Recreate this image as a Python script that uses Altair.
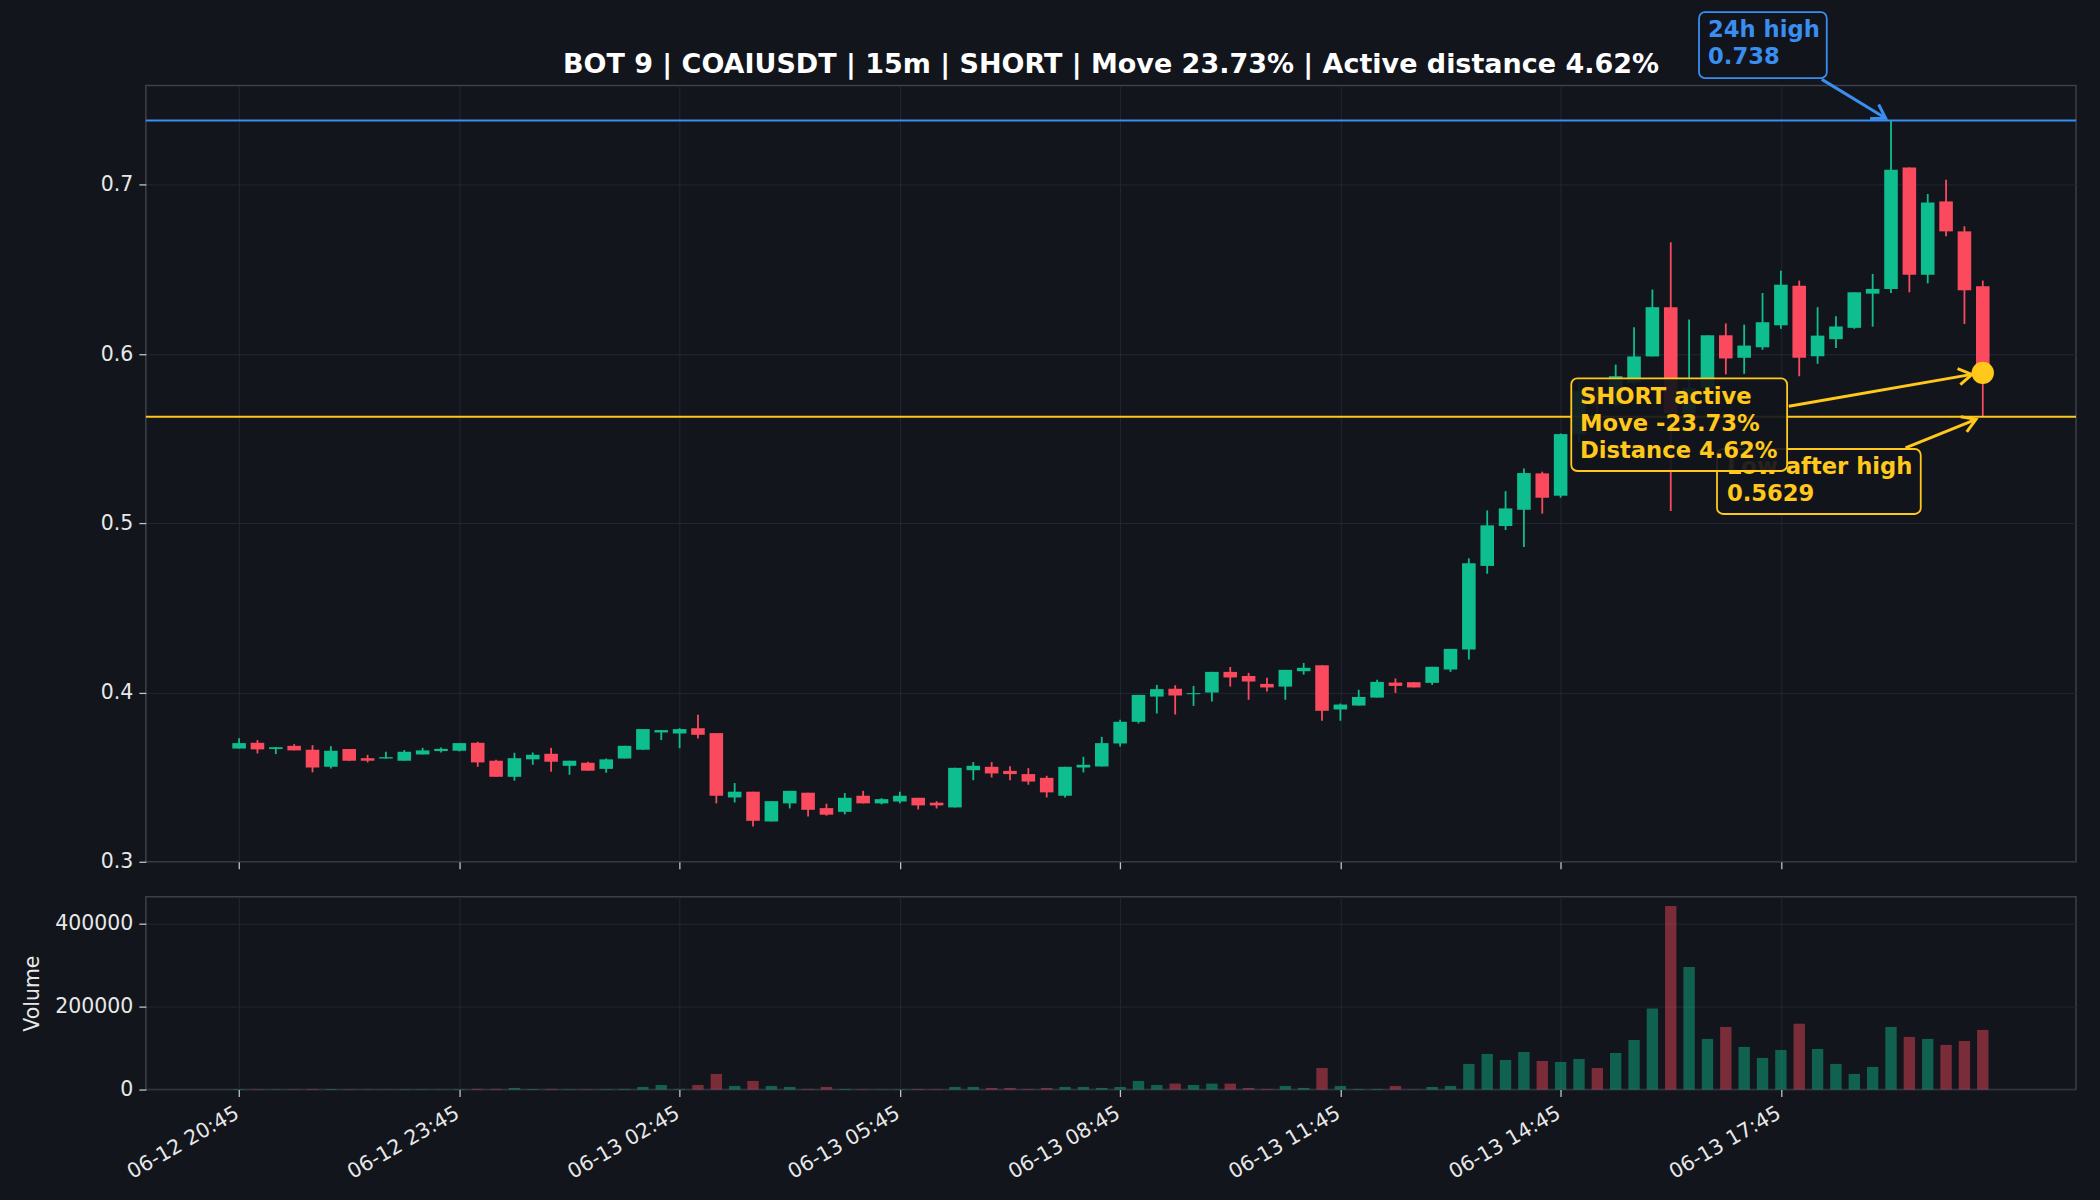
import json
import math
import altair as alt
import pandas as pd

# ---------------- data ----------------
opens = [0.3669, 0.3703, 0.3666, 0.3685, 0.3662, 0.3561, 0.3666, 0.3612, 0.3610, 0.3597,
         0.3634, 0.3654, 0.3656, 0.3703, 0.3597, 0.3502, 0.3605, 0.3638, 0.3567, 0.3585,
         0.3549, 0.3610, 0.3662, 0.3764, 0.3758, 0.3789, 0.3760, 0.3380, 0.3414, 0.3238,
         0.3345, 0.3408, 0.3317, 0.3295, 0.3390, 0.3345, 0.3356, 0.3378, 0.3349, 0.3321,
         0.3541, 0.3561, 0.3537, 0.3518, 0.3496, 0.3390, 0.3557, 0.3563, 0.3699, 0.3827,
         0.3976, 0.4022, 0.3990, 0.4000, 0.4122, 0.4098, 0.4051, 0.4035, 0.4126, 0.4161,
         0.3900, 0.3923, 0.3970, 0.4059, 0.4061, 0.4057, 0.4136, 0.4254, 0.4748, 0.4984,
         0.5080, 0.5295, 0.5163, 0.5527, 0.5780, 0.5700, 0.5830, 0.5986, 0.6277, 0.5650,
         0.5800, 0.6111, 0.5978, 0.6040, 0.6170, 0.6404, 0.5987, 0.6088, 0.6155, 0.6357,
         0.6385, 0.7103, 0.6468, 0.6902, 0.6725, 0.6401]
highs = [0.3730, 0.3719, 0.3677, 0.3695, 0.3689, 0.3683, 0.3666, 0.3632, 0.3650, 0.3660,
         0.3673, 0.3675, 0.3701, 0.3709, 0.3603, 0.3644, 0.3646, 0.3673, 0.3597, 0.3591,
         0.3610, 0.3685, 0.3784, 0.3778, 0.3789, 0.3868, 0.3760, 0.3465, 0.3414, 0.3358,
         0.3419, 0.3408, 0.3343, 0.3406, 0.3419, 0.3376, 0.3414, 0.3378, 0.3358, 0.3555,
         0.3589, 0.3589, 0.3565, 0.3553, 0.3508, 0.3561, 0.3620, 0.3738, 0.3839, 0.3986,
         0.4045, 0.4043, 0.4039, 0.4122, 0.4151, 0.4116, 0.4087, 0.4134, 0.4175, 0.4161,
         0.3935, 0.4016, 0.4075, 0.4083, 0.4061, 0.4152, 0.4258, 0.4793, 0.5076, 0.5190,
         0.5324, 0.5305, 0.5531, 0.5840, 0.5830, 0.5938, 0.6159, 0.6381, 0.6660, 0.6204,
         0.6111, 0.6181, 0.6174, 0.6361, 0.6493, 0.6434, 0.6277, 0.6223, 0.6365, 0.6473,
         0.7380, 0.7103, 0.6946, 0.7030, 0.6755, 0.6434]
lows = [0.3669, 0.3640, 0.3636, 0.3658, 0.3528, 0.3551, 0.3597, 0.3587, 0.3610, 0.3597,
        0.3634, 0.3646, 0.3652, 0.3561, 0.3502, 0.3479, 0.3573, 0.3532, 0.3514, 0.3538,
        0.3526, 0.3610, 0.3662, 0.3719, 0.3671, 0.3728, 0.3345, 0.3350, 0.3209, 0.3238,
        0.3315, 0.3268, 0.3272, 0.3280, 0.3345, 0.3339, 0.3345, 0.3309, 0.3315, 0.3321,
        0.3482, 0.3498, 0.3482, 0.3455, 0.3380, 0.3380, 0.3528, 0.3563, 0.3681, 0.3817,
        0.3876, 0.3870, 0.3921, 0.3947, 0.4035, 0.3957, 0.4006, 0.3957, 0.4106, 0.3833,
        0.3833, 0.3923, 0.3970, 0.3998, 0.4030, 0.4045, 0.4122, 0.4195, 0.4702, 0.4960,
        0.4860, 0.5057, 0.5151, 0.5480, 0.5650, 0.5690, 0.5820, 0.5986, 0.5072, 0.5600,
        0.5760, 0.5880, 0.5883, 0.6025, 0.6149, 0.5869, 0.5942, 0.6036, 0.6149, 0.6162,
        0.6361, 0.6365, 0.6418, 0.6696, 0.6178, 0.5629]
closes = [0.3701, 0.3664, 0.3677, 0.3658, 0.3557, 0.3656, 0.3597, 0.3597, 0.3618, 0.3650,
          0.3658, 0.3667, 0.3701, 0.3587, 0.3502, 0.3612, 0.3632, 0.3591, 0.3597, 0.3538,
          0.3605, 0.3685, 0.3784, 0.3778, 0.3784, 0.3750, 0.3390, 0.3414, 0.3242, 0.3358,
          0.3419, 0.3307, 0.3278, 0.3378, 0.3345, 0.3370, 0.3390, 0.3333, 0.3333, 0.3555,
          0.3567, 0.3522, 0.3518, 0.3474, 0.3410, 0.3561, 0.3573, 0.3701, 0.3827, 0.3986,
          0.4020, 0.3982, 0.3996, 0.4122, 0.4089, 0.4065, 0.4030, 0.4134, 0.4146, 0.3892,
          0.3929, 0.3974, 0.4063, 0.4039, 0.4030, 0.4152, 0.4258, 0.4764, 0.4988, 0.5088,
          0.5297, 0.5151, 0.5527, 0.5780, 0.5700, 0.5869, 0.5986, 0.6277, 0.5650, 0.5800,
          0.6111, 0.5974, 0.6050, 0.6188, 0.6410, 0.5978, 0.6109, 0.6163, 0.6365, 0.6385,
          0.7089, 0.6468, 0.6896, 0.6725, 0.6377, 0.5889]
volumes = [1200, 900, 600, 700, 1500, 1300, 900, 600, 400, 800,
           700, 500, 1100, 1800, 1600, 3900, 1400, 1700, 900, 800,
           1000, 1500, 6300, 11100, 1500, 11100, 37600, 8700, 20700, 8700,
           6300, 1500, 6300, 1500, 800, 600, 900, 1500, 900, 6300,
           6300, 3900, 3900, 1500, 3900, 6300, 6300, 3900, 6300, 20700,
           11100, 14300, 11100, 14300, 14300, 3900, 1500, 8700, 3900, 52000,
           8700, 1500, 1500, 8700, 600, 6300, 8700, 61700, 85800, 71300,
           90600, 68900, 66500, 73700, 52000, 88200, 119500, 195000, 442500, 295400,
           122000, 150900, 102700, 76200, 95400, 158600, 97800, 61700, 37600, 54500,
           150900, 126800, 122000, 107500, 117100, 143600]
tick_labels = ["06-12 20:45", "06-12 23:45", "06-13 02:45", "06-13 05:45",
               "06-13 08:45", "06-13 11:45", "06-13 14:45", "06-13 17:45"]
tick_positions = [0, 12, 24, 36, 48, 60, 72, 84]

title_text = "BOT 9 | COAIUSDT | 15m | SHORT | Move 23.73% | Active distance 4.62%"
title_x = [47.5]
title_y = [0.7658]
high_24h = 0.738
low_after_high = 0.5629
current_price = 0.5889
current_idx = 95

# annotation boxes (candle index / price coordinates)
box_x0 = [79.54, 80.52, 72.58]
box_x1 = [86.50, 91.62, 84.34]
box_y0 = [0.7630, 0.5055, 0.5309]
box_y1 = [0.8020, 0.5439, 0.5856]
text_x = [80.03, 81.06, 73.05]
text_y = [0.7871, 0.5289, 0.5702]
box_texts = [["24h high", "0.738"], ["Low after high", "0.5629"],
             ["SHORT active", "Move -23.73%", "Distance 4.62%"]]
box_kind = ["blue", "yellow", "yellow"]

# arrows: tail -> tip
arrow_x = [86.23, 84.43, 90.79]
arrow_y = [0.7623, 0.5692, 0.5446]
arrow_x2 = [89.71, 94.41, 94.63]
arrow_y2 = [0.7393, 0.5880, 0.5614]
arrow_kind = ["blue", "yellow", "yellow"]

# ---------------- style ----------------
BG = "#12151c"
GREEN = "#0fbe8f"
RED = "#fb4a5e"
BLUE = "#3a8ef0"
YELLOW = "#ffc81a"
GRID = "#222733"
SPINE = "#3c404a"
TXT = "#e8e8e8"
FONT = "DejaVu Sans"
KIND_COLOR = {"blue": BLUE, "yellow": YELLOW}

W = 1932
H_PRICE = 777
H_VOL = 193
X_DOM = [-5.08, 100.08]
Y_DOM = [0.3, 0.7587]
V_DOM = [0, 464600]
PX_X = W / (X_DOM[1] - X_DOM[0])
PX_Y = H_PRICE / (Y_DOM[1] - Y_DOM[0])

n = len(opens)
df = pd.DataFrame({
    "idx": list(range(n)),
    "open": opens, "high": highs, "low": lows, "close": closes, "volume": volumes,
})
df["dir"] = ["up" if c >= o else "down" for o, c in zip(opens, closes)]
df["body_lo"] = df[["open", "close"]].min(axis=1)
df["body_hi"] = df[["open", "close"]].max(axis=1)
df["bx0"] = df["idx"] - 0.37
df["bx1"] = df["idx"] + 0.37
df["vx0"] = df["idx"] - 0.31
df["vx1"] = df["idx"] + 0.31

xscale = alt.Scale(domain=X_DOM, nice=False, zero=False)
yscale = alt.Scale(domain=Y_DOM, nice=False, zero=False)
vscale = alt.Scale(domain=V_DOM, nice=False, zero=False)
cscale = alt.Scale(domain=["up", "down"], range=[GREEN, RED])

label_expr = json.dumps(tick_labels) + "[round(datum.value / 12)]"


def XP(field):
    return alt.X(field, scale=xscale,
                 axis=alt.Axis(values=tick_positions, labels=False, ticks=True, grid=True,
                               domain=False, title=None))


def YP(field):
    return alt.Y(field, scale=yscale,
                 axis=alt.Axis(values=[0.3, 0.4, 0.5, 0.6, 0.7], format=".1f", grid=True,
                               domain=False, title=None))


base = alt.Chart(df)

wicks = base.mark_rule(strokeWidth=1.8).encode(
    x=XP("idx:Q"), y=YP("low:Q"), y2="high:Q",
    color=alt.Color("dir:N", scale=cscale, legend=None),
)
bodies = base.mark_rect().encode(
    x=XP("bx0:Q"), x2="bx1:Q", y=YP("body_lo:Q"), y2="body_hi:Q",
    color=alt.Color("dir:N", scale=cscale, legend=None),
)

hline = alt.Chart(pd.DataFrame({"v": [high_24h]})).mark_rule(
    color=BLUE, strokeWidth=2.2).encode(y=YP("v:Q"))
lline = alt.Chart(pd.DataFrame({"v": [low_after_high]})).mark_rule(
    color=YELLOW, strokeWidth=2.0).encode(y=YP("v:Q"))

dot = alt.Chart(pd.DataFrame({"x": [current_idx], "y": [current_price]})).mark_circle(
    size=500, color=YELLOW, opacity=1).encode(x=XP("x:Q"), y=YP("y:Q"))

title_mark = alt.Chart(pd.DataFrame({"x": title_x, "y": title_y, "t": [title_text]})).mark_text(
    align="center", baseline="alphabetic", font=FONT, fontSize=27, fontWeight="bold",
    color="#ffffff").encode(x=XP("x:Q"), y=YP("y:Q"), text="t:N")

# arrows
arr = pd.DataFrame({"x": arrow_x, "y": arrow_y, "x2": arrow_x2, "y2": arrow_y2,
                    "col": [KIND_COLOR[k] for k in arrow_kind]})
arr["ang"] = [
    math.degrees(math.atan2(-(b2 - b1) * PX_Y, (a2 - a1) * PX_X)) % 360
    for a1, b1, a2, b2 in zip(arrow_x, arrow_y, arrow_x2, arrow_y2)
]
arrow_lines = alt.Chart(arr).mark_rule(strokeWidth=3.0).encode(
    x=XP("x:Q"), y=YP("y:Q"), x2="x2:Q", y2="y2:Q", color=alt.Color("col:N", scale=None))
arrow_heads = alt.Chart(arr).mark_point(
    shape="M -1 -0.62 L 0 0 L -1 0.62", filled=False, size=700, strokeWidth=3.0,
    opacity=1, strokeJoin="miter").encode(
    x=XP("x2:Q"), y=YP("y2:Q"),
    angle=alt.Angle("ang:Q", scale=None), color=alt.Color("col:N", scale=None))


def box_layers(i):
    bdf = pd.DataFrame({"x0": [box_x0[i]], "x1": [box_x1[i]], "y0": [box_y0[i]],
                        "y1": [box_y1[i]], "tx": [text_x[i]], "ty": [text_y[i]],
                        "t": ["\n".join(box_texts[i])]})
    col = KIND_COLOR[box_kind[i]]
    rect = alt.Chart(bdf).mark_rect(fill=BG, fillOpacity=0.92, stroke=col, strokeWidth=1.8,
                                    cornerRadius=6).encode(
        x=XP("x0:Q"), x2="x1:Q", y=YP("y0:Q"), y2="y1:Q")
    txt = alt.Chart(bdf).mark_text(align="left", baseline="alphabetic", lineBreak="\n",
                                   lineHeight=26.7, font=FONT, fontSize=22.7,
                                   fontWeight="bold", color=col).encode(
        x=XP("tx:Q"), y=YP("ty:Q"), text="t:N")
    return [rect, txt]


price = alt.layer(
    wicks, bodies, hline, lline,
    *box_layers(0), *box_layers(1), *box_layers(2),
    arrow_lines, arrow_heads, dot, title_mark,
).properties(width=W, height=H_PRICE)

vol = alt.Chart(df).mark_rect(opacity=0.45).encode(
    x=alt.X("vx0:Q", scale=xscale,
            axis=alt.Axis(values=tick_positions, labelExpr=label_expr, labelAngle=-30,
                          labelAlign="right", labelBaseline="top", grid=True,
                          domain=False, title=None, labelPadding=6, labelOffset=-7)),
    x2="vx1:Q",
    y=alt.Y("volume:Q", scale=vscale,
            axis=alt.Axis(values=[0, 200000, 400000], format="d", grid=True, domain=False,
                          title="Volume", titleX=-113, titleBaseline="middle")),
    y2=alt.datum(0),
    color=alt.Color("dir:N", scale=cscale, legend=None),
).properties(width=W, height=H_VOL)

chart = alt.vconcat(price, vol, spacing=35, bounds="flush").properties(
    padding={"left": 22, "top": 10, "right": 22, "bottom": 26},
    background=BG,
).configure_view(
    fill=BG, stroke=SPINE, strokeWidth=1.5,
).configure_axis(
    labelFont=FONT, labelFontSize=20.5, labelColor=TXT,
    titleFont=FONT, titleFontSize=20.5, titleColor=TXT, titleFontWeight="normal",
    tickColor="#c0c3c8", tickSize=7, tickWidth=1.3, labelPadding=6,
    gridColor=GRID, gridWidth=1,
)

chart.save("out.html", embed_options={"renderer": "svg", "actions": False})
